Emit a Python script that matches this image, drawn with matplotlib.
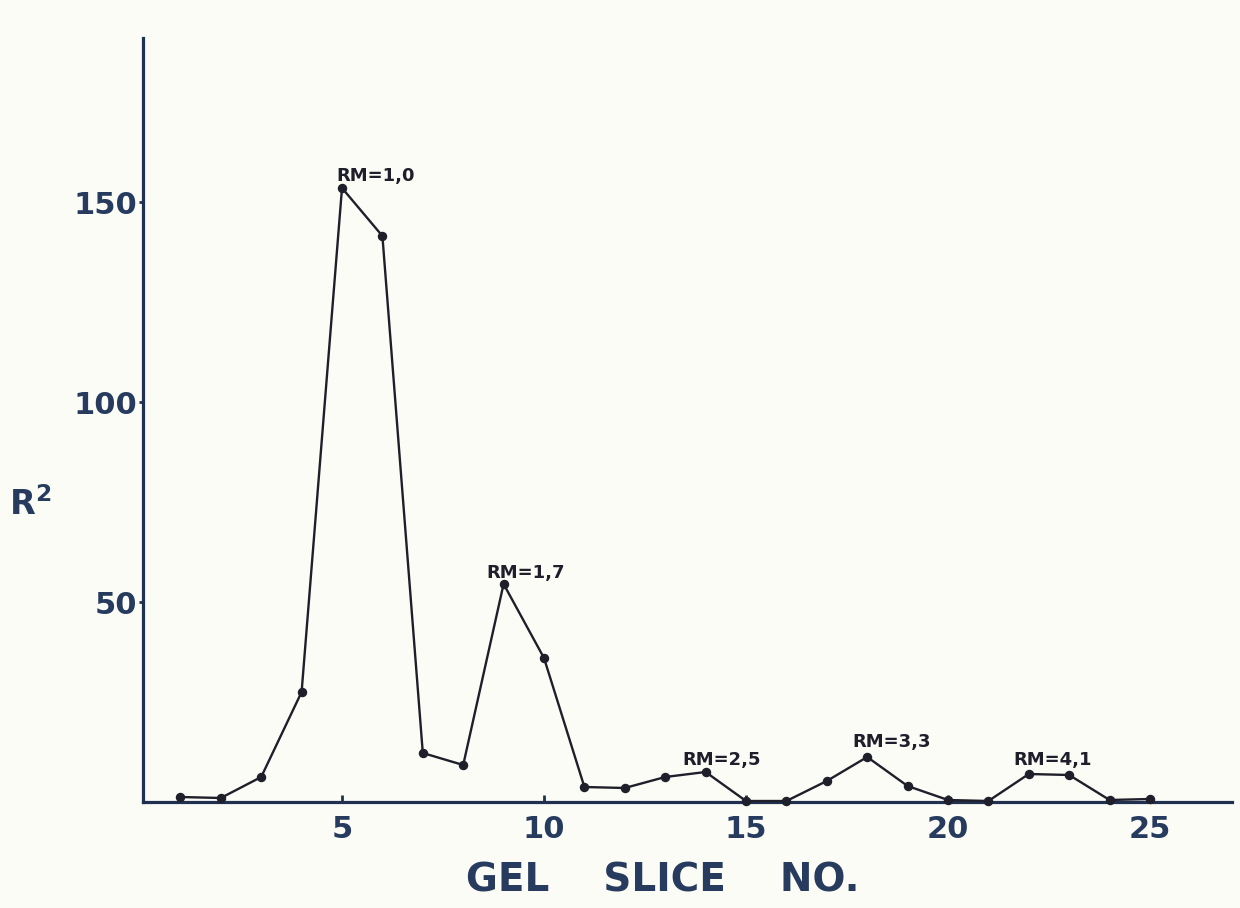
#!/usr/bin/env python3
"""Gel slice profile: R^2 vs gel slice number."""
import matplotlib.pyplot as plt

slices = list(range(1, 26))
r2 = [1.25, 1.0, 6.25, 27.5, 153.5, 141.5, 12.25, 9.25, 54.5, 36.0,
      3.75, 3.5, 6.25, 7.5, 0.25, 0.25, 5.25, 11.25, 4.0, 0.5,
      0.25, 7.0, 6.75, 0.5, 0.75]

peak_labels = ["RM=1,0", "RM=1,7", "RM=2,5", "RM=3,3", "RM=4,1"]
peak_pos = [(5.82, 156.5), (9.55, 57.3), (14.4, 10.5), (18.6, 15.0), (22.6, 10.5)]

xticks = [5, 10, 15, 20, 25]
yticks = [50, 100, 150]

BG = '#fcfcf6'
NAVY = '#1f3050'
TXT = '#263b5e'
LINE = '#1e1f2a'

fig = plt.figure(figsize=(12.4, 9.08), dpi=100, facecolor=BG)
ax = fig.add_axes([143 / 1240, 1 - 802 / 908, 1089 / 1240, 764 / 908])
ax.set_facecolor(BG)

ax.plot(slices, r2, color=LINE, lw=1.7, marker='o', ms=5.8, zorder=4,
        clip_on=False)

for lab, (x, y) in zip(peak_labels, peak_pos):
    ax.text(x, y, lab, fontsize=13, fontweight='bold', color=LINE,
            ha='center', va='center')

ax.set_xlim(0.074, 27.03)
ax.set_ylim(0, 191)

for s in ['top', 'right']:
    ax.spines[s].set_visible(False)
for s in ['left', 'bottom']:
    ax.spines[s].set_color(NAVY)
    ax.spines[s].set_linewidth(2.3)

ax.set_xticks(xticks)
ax.set_xticklabels([str(t) for t in xticks])
ax.set_yticks(yticks)
ax.set_yticklabels([str(t) for t in yticks])
ax.tick_params(axis='x', direction='in', length=5, width=2, color=NAVY,
               pad=9, labelsize=22, labelcolor=TXT)
ax.tick_params(axis='y', direction='out', length=3, width=2, color=NAVY,
               pad=1, labelsize=22, labelcolor=TXT)
for lbl in ax.get_xticklabels() + ax.get_yticklabels():
    lbl.set_fontweight('bold')

fig.text(30 / 1240, 1 - 505 / 908, r'$\mathbf{R^2}$', fontsize=24,
         color=TXT, ha='center', va='center')
fig.text(663 / 1240, 1 - 880 / 908, "GEL    SLICE    NO.", fontsize=28,
         fontweight='bold', color=TXT, ha='center', va='center')

fig.savefig('out.png', dpi=100, facecolor=BG)
